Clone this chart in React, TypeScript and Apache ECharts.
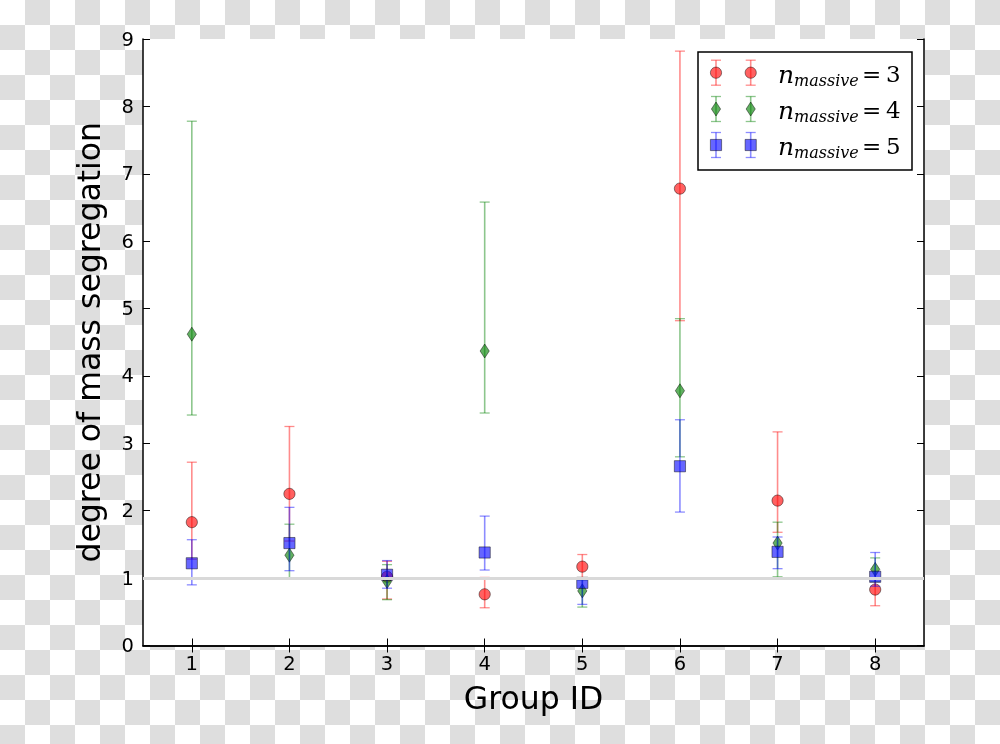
import React, { useEffect, useRef } from "react";
import * as echarts from "echarts";

// ---- data ----
const groups = ["1", "2", "3", "4", "5", "6", "7", "8"];

const n3Values = [1.83, 2.25, 1.02, 0.76, 1.17, 6.78, 2.15, 0.83];
const n3Lower = [1.28, 1.55, 0.69, 0.56, 0.98, 4.82, 1.68, 0.59];
const n3Upper = [2.72, 3.25, 1.25, 1.01, 1.35, 8.82, 3.17, 1.0];

const n4Values = [4.62, 1.34, 0.95, 4.37, 0.81, 3.78, 1.52, 1.13];
const n4Lower = [3.42, 0.99, 0.68, 3.45, 0.57, 2.8, 1.02, 0.95];
const n4Upper = [7.78, 1.8, 1.2, 6.58, 0.97, 4.85, 1.83, 1.3];

const n5Values = [1.22, 1.52, 1.05, 1.38, 0.93, 2.66, 1.39, 1.02];
const n5Lower = [0.9, 1.11, 0.85, 1.12, 0.61, 1.98, 1.14, 0.88];
const n5Upper = [1.57, 2.05, 1.26, 1.92, 1.0, 3.35, 1.61, 1.38];

const referenceLevel = 1;
const xAxisTitle = "Group ID";
const yAxisTitle = "degree of mass segregation";
const legendNumbers = ["3", "4", "5"];

type Kind = "circle" | "diamond" | "rect";

const seriesDefs: {
  name: string;
  values: number[];
  lower: number[];
  upper: number[];
  kind: Kind;
  fill: string;
  bar: string;
  label: string;
}[] = [
  { name: "n3", values: n3Values, lower: n3Lower, upper: n3Upper, kind: "circle", fill: "rgba(255,0,0,0.62)", bar: "rgba(255,0,0,0.45)", label: legendNumbers[0] },
  { name: "n4", values: n4Values, lower: n4Lower, upper: n4Upper, kind: "diamond", fill: "rgba(0,128,0,0.62)", bar: "rgba(0,128,0,0.45)", label: legendNumbers[1] },
  { name: "n5", values: n5Values, lower: n5Lower, upper: n5Upper, kind: "rect", fill: "rgba(0,0,255,0.6)", bar: "rgba(0,0,255,0.45)", label: legendNumbers[2] },
];

const FONT = "DejaVu Sans";

function markerShape(kind: Kind, cx: number, cy: number, fill: string) {
  const style = { fill, stroke: "rgba(0,0,0,0.45)", lineWidth: 1 };
  if (kind === "circle") return { type: "circle", shape: { cx, cy, r: 5.6 }, style };
  if (kind === "rect") return { type: "rect", shape: { x: cx - 5.6, y: cy - 5.6, width: 11.2, height: 11.2 }, style };
  return {
    type: "polygon",
    shape: { points: [[cx, cy - 7], [cx + 4.6, cy], [cx, cy + 7], [cx - 4.6, cy]] },
    style,
  };
}

function errorGlyph(kind: Kind, cx: number, cy: number, yLo: number, yHi: number, fill: string, bar: string) {
  return [
    { type: "line", shape: { x1: cx, y1: yLo, x2: cx, y2: yHi }, style: { stroke: bar, lineWidth: 1.6 } },
    { type: "line", shape: { x1: cx - 5, y1: yLo, x2: cx + 5, y2: yLo }, style: { stroke: bar, lineWidth: 1.3 } },
    { type: "line", shape: { x1: cx - 5, y1: yHi, x2: cx + 5, y2: yHi }, style: { stroke: bar, lineWidth: 1.3 } },
    markerShape(kind, cx, cy, fill),
  ];
}

function buildLegend() {
  const boxX = 698, boxY = 52, boxW = 214, boxH = 118;
  const rows = [72.7, 109, 145];
  const markerXs = [716, 750.7];
  const elements: any[] = [
    { type: "rect", shape: { x: boxX, y: boxY, width: boxW, height: boxH }, style: { fill: "#fff", stroke: "#000", lineWidth: 1.5 }, z: 10 },
  ];
  seriesDefs.forEach((s, i) => {
    const cy = rows[i];
    markerXs.forEach((mx) => {
      errorGlyph(s.kind, mx, cy, cy + 12.5, cy - 12.5, s.fill, s.bar).forEach((el: any) => elements.push({ ...el, z: 11 }));
    });
    elements.push({ type: "text", x: 778, y: cy + 1.5, z: 11, style: { text: "n", font: "italic 25px 'DejaVu Serif'", fill: "#000", verticalAlign: "middle", align: "left" } });
    elements.push({ type: "text", x: 794, y: cy + 7.5, z: 11, style: { text: "massive", font: "italic 16px 'DejaVu Serif'", fill: "#000", verticalAlign: "middle", align: "left" } });
    elements.push({ type: "text", x: 862, y: cy + 1, z: 11, style: { text: "=", font: "23px 'DejaVu Serif'", fill: "#000", verticalAlign: "middle", align: "left" } });
    elements.push({ type: "text", x: 886, y: cy + 1, z: 11, style: { text: s.label, font: "23px 'DejaVu Serif'", fill: "#000", verticalAlign: "middle", align: "left" } });
  });
  return elements;
}

export default function App() {
  const ref = useRef<HTMLDivElement>(null);
  useEffect(() => {
    if (!ref.current) return;
    const chart = echarts.init(ref.current, null, { renderer: "svg" });
    const axisLine = { show: true, lineStyle: { color: "#000", width: 1.5 } };
    const tick = { show: true, inside: true, length: 7, lineStyle: { color: "#000", width: 1 } };
    const option: any = {
      animation: false,
      backgroundColor: "transparent",
      grid: { left: 143, right: 76, top: 39, bottom: 98.5, show: true, backgroundColor: "#fff", borderWidth: 0 },
      xAxis: [
        {
          type: "category",
          data: groups,
          position: "bottom",
          boundaryGap: true,
          axisLine,
          axisTick: { ...tick, alignWithLabel: true },
          axisLabel: { color: "#000", fontSize: 19.5, fontFamily: FONT, margin: 8 },
          splitLine: { show: false },
          name: xAxisTitle,
          nameLocation: "middle",
          nameGap: 36,
          nameTextStyle: { color: "#000", fontSize: 31.5, fontFamily: FONT },
        },
        {
          type: "category",
          data: groups,
          position: "top",
          boundaryGap: true,
          axisLine,
          axisTick: { ...tick, alignWithLabel: true },
          axisLabel: { show: false },
          splitLine: { show: false },
        },
      ],
      yAxis: [
        {
          type: "value",
          min: 0,
          max: 9,
          interval: 1,
          position: "left",
          axisLine,
          axisTick: tick,
          axisLabel: { color: "#000", fontSize: 19.5, fontFamily: FONT, margin: 9 },
          splitLine: { show: false },
          name: yAxisTitle,
          nameLocation: "middle",
          nameRotate: 90,
          nameGap: 38,
          nameTextStyle: { color: "#000", fontSize: 31.5, fontFamily: FONT },
        },
        {
          type: "value",
          min: 0,
          max: 9,
          interval: 1,
          position: "right",
          axisLine,
          axisTick: tick,
          axisLabel: { show: false },
          splitLine: { show: false },
        },
      ],
      series: [
        {
          type: "line",
          data: [],
          z: 1,
          silent: true,
          markLine: {
            silent: true,
            symbol: ["none", "none"],
            label: { show: false },
            lineStyle: { color: "#d9d9d9", width: 3, type: "solid" },
            data: [{ yAxis: referenceLevel }],
          },
        },
        ...seriesDefs.map((s) => ({
          type: "custom",
          name: s.name,
          z: 3,
          data: groups.map((_, i) => [i, s.values[i], s.lower[i], s.upper[i]]),
          encode: { x: 0, y: [1, 2, 3] },
          renderItem: (params: any, api: any) => {
            const x = api.value(0);
            const p = api.coord([x, api.value(1)]);
            const lo = api.coord([x, api.value(2)]);
            const hi = api.coord([x, api.value(3)]);
            return { type: "group", children: errorGlyph(s.kind, p[0], p[1], lo[1], hi[1], s.fill, s.bar) };
          },
        })),
      ],
      graphic: buildLegend(),
    };
    chart.setOption(option);
    return () => chart.dispose();
  }, []);
  return (
    <div
      style={{
        position: "fixed",
        left: 0,
        top: 0,
        width: 1000,
        height: 744,
        background: "repeating-conic-gradient(#dedede 0 25%, #ffffff 0 50%) 0 0 / 50px 50px",
      }}
    >
      <div ref={ref} style={{ width: 1000, height: 744 }} />
    </div>
  );
}
